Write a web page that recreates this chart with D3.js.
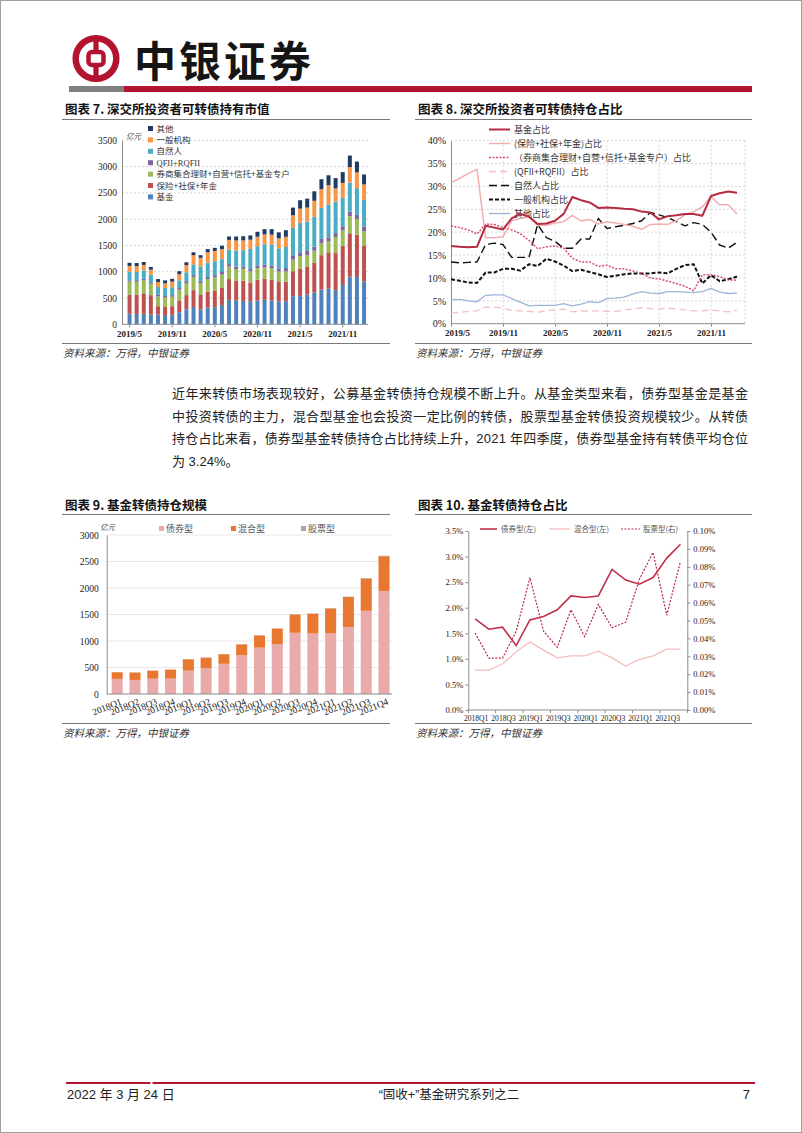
<!DOCTYPE html>
<html lang="zh-CN">
<head>
<meta charset="utf-8">
<title>“固收+”基金研究系列之二</title>
<script src="https://cdn.jsdelivr.net/npm/d3@7/dist/d3.min.js"></script>
<style>
html,body{margin:0;padding:0;background:#fff;}
svg{display:block;}
</style>
</head>
<body>
<svg id="page" width="802" height="1133"></svg>
<script>
// ================= DATA =================
// Chart 7 / 8 : monthly categories
const months = ["2019/5","2019/6","2019/7","2019/8","2019/9","2019/10","2019/11","2019/12",
  "2020/1","2020/2","2020/3","2020/4","2020/5","2020/6","2020/7","2020/8","2020/9","2020/10","2020/11","2020/12",
  "2021/1","2021/2","2021/3","2021/4","2021/5","2021/6","2021/7","2021/8","2021/9","2021/10","2021/11","2021/12",
  "2022/1","2022/2"];
const monthTicks = ["2019/5","2019/11","2020/5","2020/11","2021/5","2021/11"];

// Chart 7: market value held (亿元)
const mvFund      = [200,195,200,185,185,175,180,230,285,330,285,315,325,365,465,450,445,430,450,465,455,435,440,535,540,565,605,660,680,650,750,905,900,815];
const mvInsurance = [360,370,390,370,160,155,165,225,270,320,285,305,320,335,395,375,385,365,395,400,395,370,370,475,520,525,570,655,690,705,745,825,805,685];
const mvBroker    = [250,245,245,215,185,180,180,205,230,250,215,240,245,245,240,225,225,210,225,220,215,200,195,220,235,225,225,225,205,305,290,325,295,270];
const mvQfii      = [25,30,30,30,30,30,30,30,35,35,35,40,45,50,45,45,45,45,50,50,55,55,65,70,75,80,80,85,80,75,80,90,80,85];
const mvNatural   = [160,155,160,145,150,150,150,145,170,200,280,270,265,245,275,310,310,385,365,385,390,385,400,535,565,560,565,590,625,600,540,550,510,510];
const mvGeneral   = [115,110,105,95,95,90,105,120,135,180,165,200,195,190,185,190,185,175,180,190,195,190,195,240,265,265,305,355,365,250,285,295,300,295];
const mvOther     = [60,60,55,50,55,55,55,55,55,55,50,60,60,65,65,75,80,80,95,100,105,115,125,145,160,170,180,190,190,195,205,220,205,190];
const mvTicks = [0,500,1000,1500,2000,2500,3000,3500];

// Chart 8: share of holdings (%)
const shFund      = [17.0,16.8,16.7,16.8,21.4,21.0,20.6,23.0,24.0,23.4,21.8,21.9,22.5,24.0,27.7,27.0,26.5,25.3,25.4,25.3,25.1,25.0,24.5,24.3,22.8,23.5,23.7,24.0,24.0,23.6,27.9,28.5,28.9,28.6];
const shInsurance = [30.8,31.8,32.8,33.8,18.8,18.8,19.0,22.5,23.0,23.3,21.5,21.5,22.0,22.3,23.7,22.5,22.8,21.8,22.3,22.0,21.7,21.3,20.6,21.7,21.8,21.7,22.5,23.8,24.5,25.5,27.8,26.0,26.0,24.0];
const shBroker    = [21.4,21.0,20.5,19.6,21.8,21.7,21.0,20.5,19.7,18.2,16.4,16.8,17.0,16.5,14.3,13.5,13.5,12.5,12.8,12.0,12.0,11.5,11.0,10.0,9.8,9.3,8.8,8.2,7.2,10.7,10.7,10.3,9.6,9.5];
const shQfii      = [2.3,2.5,2.7,2.8,3.6,3.6,3.4,2.9,2.8,2.7,2.5,2.9,3.0,3.2,2.6,2.8,2.7,2.8,2.7,2.7,3.0,3.2,3.5,3.3,3.2,3.4,3.2,3.0,2.8,2.8,3.0,2.8,2.6,2.9];
const shNatural   = [13.5,13.3,13.4,13.5,17.3,17.6,17.3,14.5,14.5,14.5,21.7,18.8,18.0,16.5,16.5,18.5,18.5,23.0,20.8,21.2,21.5,21.9,22.5,24.3,23.8,23.2,22.3,21.4,22.1,21.7,20.0,17.2,16.5,17.8];
const shGeneral   = [9.7,9.4,9.0,8.9,11.2,11.2,12.0,12.0,11.6,13.0,12.6,14.2,13.6,12.7,11.5,11.8,11.3,10.8,10.2,10.5,10.8,11.0,11.0,11.0,11.2,11.0,12.0,12.8,13.0,8.8,10.6,9.3,9.7,10.3];
const shOther     = [5.2,5.3,5.0,4.8,6.2,6.3,6.3,5.5,4.7,3.9,4.0,4.0,4.0,4.4,3.9,4.3,4.8,4.6,5.5,5.6,5.8,6.5,7.0,6.7,6.6,7.0,7.0,6.9,6.8,7.0,7.7,6.9,6.6,6.7];
const shTicks = [0,5,10,15,20,25,30,35,40];

// Chart 9 / 10 : quarterly categories
const quarters = ["2018Q1","2018Q2","2018Q3","2018Q4","2019Q1","2019Q2","2019Q3","2019Q4",
  "2020Q1","2020Q2","2020Q3","2020Q4","2021Q1","2021Q2","2021Q3","2021Q4"];
const quarterTicks = ["2018Q1","2018Q3","2019Q1","2019Q3","2020Q1","2020Q3","2021Q1","2021Q3"];

// Chart 9: fund holdings of convertibles (亿元)
const scaleBond  = [285,265,290,290,440,490,570,730,875,940,1155,1140,1145,1265,1570,1945];
const scaleMixed = [125,140,150,170,215,195,180,205,230,295,345,375,470,565,610,655];
const scaleStock = [2,2,2,2,3,3,3,4,4,5,5,5,6,6,7,8];
const scaleTicks = [0,500,1000,1500,2000,2500,3000];

// Chart 10: position ratio (%)
const ratioBond  = [1.78,1.58,1.62,1.26,1.76,1.83,1.96,2.23,2.20,2.23,2.75,2.54,2.46,2.59,2.97,3.24];
const ratioMixed = [0.78,0.78,0.90,1.14,1.33,1.17,1.02,1.06,1.06,1.15,1.02,0.86,0.99,1.06,1.19,1.19];
const ratioStock = [0.043,0.029,0.029,0.044,0.074,0.044,0.035,0.056,0.041,0.059,0.046,0.049,0.073,0.088,0.053,0.083];
const ratioLeftTicks  = [0,0.5,1.0,1.5,2.0,2.5,3.0,3.5];
const ratioRightTicks = [0,0.01,0.02,0.03,0.04,0.05,0.06,0.07,0.08,0.09,0.10];

// ================= DRAWING =================
const svg = d3.select("#page");
const CJK = "'Noto Sans CJK SC','Noto Sans',sans-serif";
const SERIF = "'Liberation Serif','Times New Roman',serif";
const NARROW = "'Liberation Sans Narrow','Liberation Sans','Noto Sans CJK SC',sans-serif";
const BRAND = "#B3132F";
const AXIS = "#8c8c8c";
const GRID = "#cccccc";
const plain = d3.format("d");

svg.append("rect").attr("x",0.5).attr("y",0.5).attr("width",801).attr("height",1132)
  .attr("fill","#fff").attr("stroke","#a0a0a0");

// ---- header ----
const logo = svg.append("g").attr("transform","translate(96,58.5)");
logo.append("circle").attr("r",20.3).attr("fill","none").attr("stroke",BRAND).attr("stroke-width",6.5);
logo.append("rect").attr("x",-7.5).attr("y",-6.5).attr("width",15).attr("height",13).attr("rx",3.5)
  .attr("fill","none").attr("stroke",BRAND).attr("stroke-width",4.5);
logo.append("rect").attr("x",-2.6).attr("y",-20).attr("width",5.2).attr("height",12).attr("fill",BRAND);
logo.append("rect").attr("x",-2.6).attr("y",8).attr("width",5.2).attr("height",12).attr("fill",BRAND);
svg.append("text").attr("x",134).attr("y",77).attr("font-family",CJK).attr("font-size",42)
  .attr("font-weight",700).attr("letter-spacing",3).attr("fill","#151515").text("中银证券");
svg.append("rect").attr("x",69).attr("y",86).attr("width",55).attr("height",6).attr("fill","#808080");
svg.append("rect").attr("x",124).attr("y",86).attr("width",628).attr("height",6).attr("fill",BRAND);

// ---- frame helper ----
function frame(x0, x1, tx, ty, title, lineY, srcLineY, srcY){
  svg.append("text").attr("x",tx).attr("y",ty).attr("font-family",CJK).attr("font-size",12.5)
    .attr("font-weight",700).attr("fill","#111").text(title);
  svg.append("line").attr("x1",x0).attr("x2",x1).attr("y1",lineY).attr("y2",lineY)
    .attr("stroke","#7a7a7a").attr("stroke-width",1);
  svg.append("line").attr("x1",x0).attr("x2",x1).attr("y1",srcLineY).attr("y2",srcLineY)
    .attr("stroke","#7a7a7a").attr("stroke-width",1);
  svg.append("text").attr("x",tx-2).attr("y",srcY).attr("font-family",CJK).attr("font-size",10.5)
    .attr("font-style","italic").attr("fill","#333").text("资料来源：万得，中银证券");
}
function styleAxis(g, size, family){
  g.selectAll(".tick text").attr("font-family",family||SERIF).attr("font-size",size).attr("fill","#222");
  g.selectAll(".tick line").attr("stroke",AXIS);
  g.select(".domain").attr("stroke",AXIS);
}

frame(62,390,65,114,"图表 7. 深交所投资者可转债持有市值",119.5,343.5,357);
frame(415,752,418,114,"图表 8. 深交所投资者可转债持仓占比",119.5,343.5,357);
frame(62,390,65,510,"图表 9. 基金转债持仓规模",514.5,723.5,737);
frame(415,752,418,510,"图表 10. 基金转债持仓占比",514.5,723.5,737);

// ================= Chart 7 =================
(function(){
  const x = d3.scaleBand().domain(months).range([126,367.6]).paddingInner(0.44).paddingOuter(0.22);
  const y = d3.scaleLinear().domain([0,3500]).range([324.3,140.3]);
  const keys = ["基金","保险+社保+年金","券商集合理财+自营+信托+基金专户","QFII+RQFII","自然人","一般机构","其他"];
  const series = [mvFund,mvInsurance,mvBroker,mvQfii,mvNatural,mvGeneral,mvOther];
  const colors = ["#4F81BD","#C0504D","#9BBB59","#8064A2","#4BACC6","#F79646","#1F3B63"];
  const rows = months.map((m,i)=>{const r={month:m}; keys.forEach((k,j)=>r[k]=series[j][i]); return r;});
  const stacked = d3.stack().keys(keys)(rows);

  svg.append("g").selectAll("line").data(mvTicks.slice(1)).join("line")
    .attr("x1",122).attr("x2",368).attr("y1",d=>y(d)).attr("y2",d=>y(d))
    .attr("stroke",GRID).attr("stroke-dasharray","2,2").attr("stroke-width",0.8);

  svg.append("g").selectAll("g").data(stacked).join("g").attr("fill",(d,i)=>colors[i])
    .selectAll("rect").data(d=>d).join("rect")
    .attr("x",d=>x(d.data.month)).attr("width",x.bandwidth())
    .attr("y",d=>y(d[1])).attr("height",d=>y(d[0])-y(d[1]));

  const gy = svg.append("g").attr("transform","translate(122,0)")
    .call(d3.axisLeft(y).tickValues(mvTicks).tickFormat(plain).tickSize(0).tickPadding(5));
  styleAxis(gy,9.5);
  const gx = svg.append("g").attr("transform","translate(0,324.3)")
    .call(d3.axisBottom(x).tickValues(monthTicks).tickSize(3).tickPadding(3));
  gx.select(".domain").remove();
  styleAxis(gx,9);
  gx.selectAll(".tick text").attr("font-weight",700);
  svg.append("line").attr("x1",122).attr("x2",368).attr("y1",324.3).attr("y2",324.3).attr("stroke",AXIS);

  svg.append("text").attr("x",126).attr("y",139).attr("font-family",CJK).attr("font-size",7.5)
    .attr("font-style","italic").attr("fill","#444").text("亿元");

  const legendOrder = [6,5,4,3,2,1,0];
  const lg = svg.append("g");
  legendOrder.forEach((idx,i)=>{
    const cy = 128.5 + i*11.4;
    lg.append("rect").attr("x",148).attr("y",cy-2.5).attr("width",5).attr("height",5).attr("fill",colors[idx]);
    lg.append("text").attr("x",156.5).attr("y",cy+3).attr("font-family",idx===3?SERIF:CJK)
      .attr("font-size",8.5).attr("fill","#333").text(keys[idx]);
  });
})();

// ================= Chart 8 =================
(function(){
  const x = d3.scalePoint().domain(months).range([451,737]);
  const y = d3.scaleLinear().domain([0,40]).range([323.7,140.7]);
  const right = 745;
  svg.append("g").selectAll("line").data(shTicks.slice(1)).join("line")
    .attr("x1",451).attr("x2",right).attr("y1",d=>y(d)).attr("y2",d=>y(d))
    .attr("stroke",GRID).attr("stroke-dasharray","2,2").attr("stroke-width",0.8);
  svg.append("g").selectAll("line").data(monthTicks.slice(1)).join("line")
    .attr("x1",d=>x(d)).attr("x2",d=>x(d)).attr("y1",140.7).attr("y2",323.7)
    .attr("stroke",GRID).attr("stroke-dasharray","2,2").attr("stroke-width",0.8);
  svg.append("line").attr("x1",right).attr("x2",right).attr("y1",140.7).attr("y2",323.7)
    .attr("stroke",GRID).attr("stroke-dasharray","2,2").attr("stroke-width",0.8);

  const gy = svg.append("g").attr("transform","translate(451,0)")
    .call(d3.axisLeft(y).tickValues(shTicks).tickFormat(d=>d+"%").tickSize(0).tickPadding(5));
  styleAxis(gy,10);
  const gx = svg.append("g").attr("transform","translate(0,323.7)")
    .call(d3.axisBottom(x).tickValues(monthTicks).tickSize(3).tickPadding(3));
  gx.select(".domain").remove();
  styleAxis(gx,9);
  gx.selectAll(".tick text").attr("font-weight",700).attr("dx",(d,i)=>i===0?6:0);
  svg.append("line").attr("x1",451).attr("x2",right).attr("y1",323.7).attr("y2",323.7).attr("stroke",AXIS);

  const defs = [
    {name:"基金占比", data:shFund, color:"#B52B41", w:2, dash:null},
    {name:"(保险+社保+年金)占比", data:shInsurance, color:"#F2AFAF", w:1.5, dash:null},
    {name:"（券商集合理财+自营+信托+基金专户）占比", data:shBroker, color:"#D8506E", w:1.5, dash:"2,1.5"},
    {name:"(QFII+RQFII）占比", data:shQfii, color:"#F5BFC3", w:1.3, dash:"7,4"},
    {name:"自然人占比", data:shNatural, color:"#111", w:1.4, dash:"8,4"},
    {name:"一般机构占比", data:shGeneral, color:"#111", w:2, dash:"4,2"},
    {name:"其他占比", data:shOther, color:"#9CB6DA", w:1.3, dash:null}
  ];
  const lg = svg.append("g");
  defs.forEach((d,i)=>{
    const cy = 129.5 + i*14;
    lg.append("line").attr("x1",489).attr("x2",510).attr("y1",cy).attr("y2",cy)
      .attr("stroke",d.color).attr("stroke-width",d.w).attr("stroke-dasharray",d.dash);
    lg.append("text").attr("x",514).attr("y",cy+3.2).attr("font-family",CJK).attr("font-size",9)
      .attr("fill","#333").text(d.name);
  });
  const line = d3.line().x((v,i)=>x(months[i])).y(v=>y(v));
  defs.slice().reverse().forEach(d=>{
    svg.append("path").attr("d",line(d.data)).attr("fill","none").attr("stroke",d.color)
      .attr("stroke-width",d.w).attr("stroke-dasharray",d.dash).attr("stroke-linejoin","round");
  });
})();

// ================= Paragraph =================
(function(){
  const lines = [
    "近年来转债市场表现较好，公募基金转债持仓规模不断上升。从基金类型来看，债券型基金是基金",
    "中投资转债的主力，混合型基金也会投资一定比例的转债，股票型基金转债投资规模较少。从转债",
    "持仓占比来看，债券型基金转债持仓占比持续上升，2021 年四季度，债券型基金持有转债平均仓位",
    "为 3.24%。"
  ];
  lines.forEach((t,i)=>{
    const el = svg.append("text").attr("x",172).attr("y",398 + i*22.7)
      .attr("font-family",NARROW).attr("font-size",13).attr("fill","#222").text(t);
    if(i<3) el.attr("textLength",576).attr("lengthAdjust","spacing");
  });
})();

// ================= Chart 9 =================
(function(){
  const x = d3.scaleBand().domain(quarters).range([108.3,392.9]).paddingInner(0.38).paddingOuter(0.19);
  const y = d3.scaleLinear().domain([0,3000]).range([694,535]);
  const keys = ["债券型","混合型","股票型"];
  const series = [scaleBond,scaleMixed,scaleStock];
  const colors = ["#EBAAAA","#E8782F","#A6A6A6"];
  const rows = quarters.map((q,i)=>{const r={q}; keys.forEach((k,j)=>r[k]=series[j][i]); return r;});
  const stacked = d3.stack().keys(keys)(rows);

  svg.append("g").selectAll("line").data(scaleTicks.slice(1)).join("line")
    .attr("x1",107).attr("x2",392).attr("y1",d=>y(d)).attr("y2",d=>y(d))
    .attr("stroke","#e3e3e3").attr("stroke-width",0.8);

  svg.append("g").selectAll("g").data(stacked).join("g").attr("fill",(d,i)=>colors[i])
    .selectAll("rect").data(d=>d).join("rect")
    .attr("x",d=>x(d.data.q)).attr("width",x.bandwidth())
    .attr("y",d=>y(d[1])).attr("height",d=>y(d[0])-y(d[1]));

  const gy = svg.append("g").attr("transform","translate(106.7,0)")
    .call(d3.axisLeft(y).tickValues(scaleTicks).tickFormat(plain).tickSize(0).tickPadding(8));
  styleAxis(gy,9.5);
  svg.append("line").attr("x1",106.7).attr("x2",392).attr("y1",694).attr("y2",694).attr("stroke",AXIS);

  svg.append("g").selectAll("text").data(quarters).join("text")
    .attr("transform",d=>`translate(${x(d)+x.bandwidth()/2+5},${704}) rotate(-22)`)
    .attr("text-anchor","end").attr("font-family",SERIF).attr("font-size",9.5).attr("fill","#222")
    .text(d=>d);

  svg.append("text").attr("x",100).attr("y",530).attr("font-family",CJK).attr("font-size",7.5)
    .attr("font-style","italic").attr("fill","#444").text("亿元");
  const lx = [159,231,301];
  keys.forEach((k,i)=>{
    svg.append("rect").attr("x",lx[i]).attr("y",526).attr("width",5).attr("height",5).attr("fill",colors[i]);
    svg.append("text").attr("x",lx[i]+7).attr("y",531.5).attr("font-family",CJK).attr("font-size",9)
      .attr("fill","#555").text(k);
  });
})();

// ================= Chart 10 =================
(function(){
  const x = d3.scaleBand().domain(quarters).range([468.3,687.3]);
  const cx = q => x(q)+x.bandwidth()/2;
  const yL = d3.scaleLinear().domain([0,3.5]).range([710,531]);
  const yR = d3.scaleLinear().domain([0,0.10]).range([710,531]);

  const gl = svg.append("g").attr("transform","translate(468.3,0)")
    .call(d3.axisLeft(yL).tickValues(ratioLeftTicks).tickFormat(d=>d.toFixed(1)+"%").tickSize(3).tickSizeOuter(0).tickPadding(2));
  styleAxis(gl,8.5);
  const gr = svg.append("g").attr("transform","translate(687.3,0)")
    .call(d3.axisRight(yR).tickValues(ratioRightTicks).tickFormat(d=>d.toFixed(2)+"%").tickSize(3).tickSizeOuter(0).tickPadding(3));
  styleAxis(gr,8.5);
  svg.append("line").attr("x1",468.3).attr("x2",687.3).attr("y1",710).attr("y2",710).attr("stroke",AXIS);
  svg.append("g").selectAll("line").data(quarters.filter((q,i)=>i%2===0).concat(["end"])).join("line")
    .attr("x1",d=>d==="end"?687.3:x(d)).attr("x2",d=>d==="end"?687.3:x(d))
    .attr("y1",710).attr("y2",713).attr("stroke",AXIS);
  svg.append("g").selectAll("text").data(quarterTicks).join("text")
    .attr("x",d=>cx(d)+1).attr("y",720.5).attr("text-anchor","middle")
    .attr("font-family",SERIF).attr("font-size",7.6).attr("fill","#222").text(d=>d);

  const lineL = d3.line().x((v,i)=>cx(quarters[i])).y(v=>yL(v));
  const lineR = d3.line().x((v,i)=>cx(quarters[i])).y(v=>yR(v));
  svg.append("path").attr("d",lineL(ratioMixed)).attr("fill","none").attr("stroke","#F4BDBD").attr("stroke-width",1.3);
  svg.append("path").attr("d",lineR(ratioStock)).attr("fill","none").attr("stroke","#B8284A").attr("stroke-width",1.2).attr("stroke-dasharray","2,1.5");
  svg.append("path").attr("d",lineL(ratioBond)).attr("fill","none").attr("stroke","#C0304B").attr("stroke-width",1.6);

  const leg = [
    {t:"债券型(左)", x1:480, x2:497, tx:501, c:"#C0304B", w:1.6, d:null},
    {t:"混合型(左)", x1:549, x2:570, tx:574, c:"#F4BDBD", w:1.3, d:null},
    {t:"股票型(右)", x1:621, x2:640, tx:643, c:"#B8284A", w:1.2, d:"2,1.5"}
  ];
  leg.forEach(l=>{
    svg.append("line").attr("x1",l.x1).attr("x2",l.x2).attr("y1",529).attr("y2",529)
      .attr("stroke",l.c).attr("stroke-width",l.w).attr("stroke-dasharray",l.d);
    svg.append("text").attr("x",l.tx).attr("y",532).attr("font-family",CJK).attr("font-size",7.5)
      .attr("fill","#555").text(l.t);
  });
})();

// ================= Footer =================
svg.append("line").attr("x1",66).attr("x2",150.5).attr("y1",1083).attr("y2",1083).attr("stroke",BRAND).attr("stroke-width",1.8);
svg.append("line").attr("x1",152.5).attr("x2",755).attr("y1",1083).attr("y2",1083).attr("stroke",BRAND).attr("stroke-width",1.8);
svg.append("text").attr("x",67).attr("y",1099).attr("font-family",NARROW).attr("font-size",13).attr("fill","#222").text("2022 年 3 月 24 日");
svg.append("text").attr("x",449).attr("y",1099).attr("text-anchor","middle").attr("font-family",NARROW).attr("font-size",12.5).attr("fill","#222").text("“固收+”基金研究系列之二");
svg.append("text").attr("x",750).attr("y",1099).attr("text-anchor","end").attr("font-family",NARROW).attr("font-size",13).attr("fill","#222").text("7");
</script>
</body>
</html>
